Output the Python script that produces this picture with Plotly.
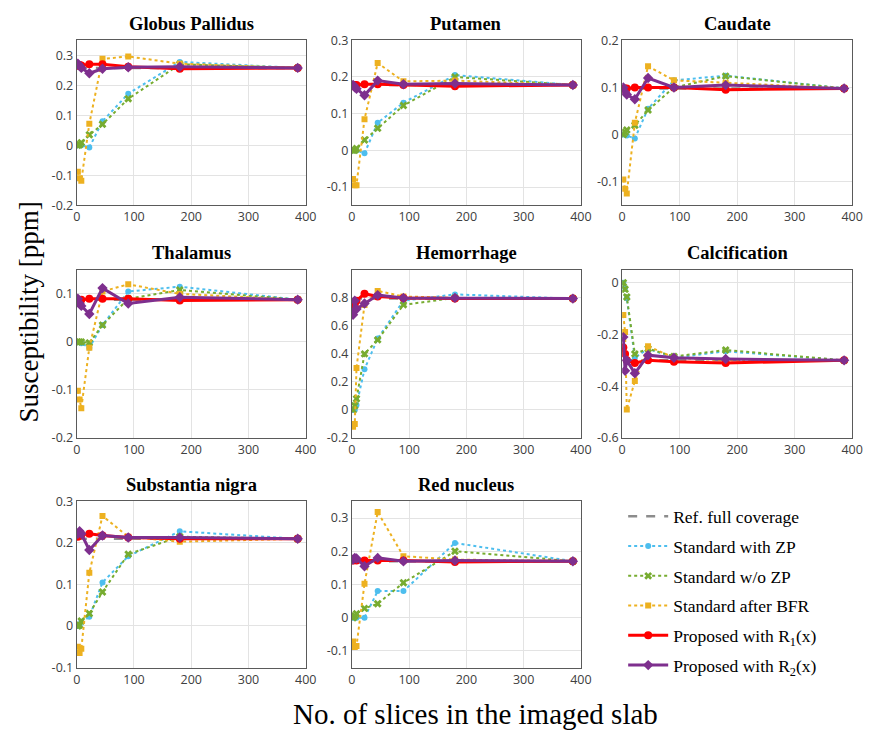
import plotly.graph_objects as go

# Number of slices in the imaged slab (shared x positions)
slices = [2, 5, 8, 22, 45, 90, 180, 386]

regions = ["Globus Pallidus", "Putamen", "Caudate",
           "Thalamus", "Hemorrhage", "Calcification",
           "Substantia nigra", "Red nucleus"]

# Reference value from full brain coverage, per region
ref_full = [0.258, 0.178, 0.098, 0.088, 0.795, -0.30, 0.21, 0.17]

std_zp = [
    [0.0, 0.0, 0.0, -0.007, 0.08, 0.172, 0.278, 0.258],
    [0.0, 0.0, 0.0, -0.008, 0.075, 0.13, 0.205, 0.178],
    [0.0, 0.0, -0.002, -0.008, 0.055, 0.115, 0.125, 0.098],
    [0.0, 0.0, -0.003, -0.012, 0.035, 0.105, 0.115, 0.088],
    [0.0, 0.0, 0.035, 0.29, 0.51, 0.78, 0.825, 0.795],
    [0.0, -0.02, -0.06, -0.29, -0.255, -0.29, -0.265, -0.30],
    [0.0, 0.0, 0.01, 0.022, 0.105, 0.168, 0.228, 0.21],
    [0.0, 0.0, 0.0, 0.0, 0.08, 0.08, 0.225, 0.17],
]

std_nozp = [
    [0.0, 0.002, 0.009, 0.035, 0.07, 0.155, 0.27, 0.258],
    [0.0, 0.0, 0.005, 0.028, 0.06, 0.122, 0.2, 0.178],
    [0.0, 0.005, 0.01, 0.02, 0.052, 0.1, 0.124, 0.098],
    [0.0, 0.0, 0.0, -0.002, 0.035, 0.09, 0.108, 0.088],
    [0.0, 0.03, 0.08, 0.40, 0.50, 0.75, 0.80, 0.795],
    [0.0, -0.025, -0.055, -0.275, -0.255, -0.285, -0.26, -0.30],
    [0.0, 0.002, 0.012, 0.03, 0.082, 0.173, 0.215, 0.21],
    [0.0, 0.005, 0.012, 0.028, 0.042, 0.105, 0.20, 0.17],
]

std_bfr = [
    [-0.088, -0.11, -0.118, 0.072, 0.288, 0.296, 0.272, 0.258],
    [-0.078, -0.095, -0.095, 0.085, 0.238, 0.188, 0.19, 0.178],
    [-0.095, -0.115, -0.125, 0.025, 0.145, 0.115, 0.11, 0.098],
    [-0.102, -0.12, -0.138, -0.012, 0.105, 0.12, 0.10, 0.088],
    [-0.12, -0.10, 0.30, 0.75, 0.85, 0.81, 0.80, 0.795],
    [-0.125, -0.19, -0.49, -0.38, -0.245, -0.29, -0.30, -0.30],
    [-0.05, -0.065, -0.055, 0.128, 0.265, 0.215, 0.203, 0.21],
    [-0.072, -0.088, -0.085, 0.102, 0.318, 0.185, 0.175, 0.17],
]

prop_r1 = [
    [0.265, 0.268, 0.266, 0.27, 0.27, 0.262, 0.255, 0.258],
    [0.175, 0.178, 0.178, 0.18, 0.18, 0.178, 0.175, 0.178],
    [0.097, 0.098, 0.098, 0.10, 0.10, 0.10, 0.095, 0.098],
    [0.088, 0.087, 0.088, 0.09, 0.09, 0.09, 0.086, 0.088],
    [0.72, 0.75, 0.78, 0.83, 0.81, 0.80, 0.795, 0.795],
    [-0.25, -0.275, -0.30, -0.31, -0.30, -0.305, -0.31, -0.30],
    [0.215, 0.218, 0.22, 0.222, 0.218, 0.213, 0.21, 0.21],
    [0.172, 0.175, 0.172, 0.172, 0.172, 0.172, 0.168, 0.17],
]

prop_r2 = [
    [0.272, 0.265, 0.258, 0.24, 0.255, 0.26, 0.262, 0.258],
    [0.178, 0.172, 0.168, 0.15, 0.19, 0.18, 0.182, 0.178],
    [0.10, 0.09, 0.085, 0.075, 0.12, 0.10, 0.105, 0.098],
    [0.09, 0.08, 0.075, 0.058, 0.112, 0.08, 0.093, 0.088],
    [0.68, 0.78, 0.72, 0.76, 0.82, 0.80, 0.80, 0.795],
    [-0.21, -0.34, -0.30, -0.35, -0.28, -0.29, -0.295, -0.30],
    [0.222, 0.228, 0.222, 0.183, 0.218, 0.213, 0.213, 0.21],
    [0.175, 0.18, 0.178, 0.155, 0.18, 0.17, 0.172, 0.17],
]

y_ranges = [[-0.2, 0.35], [-0.15, 0.3], [-0.15, 0.2],
            [-0.2, 0.15], [-0.2, 1.0], [-0.6, 0.05],
            [-0.1, 0.3], [-0.15, 0.35]]
y_ticks = [[-0.2, -0.1, 0, 0.1, 0.2, 0.3],
           [-0.1, 0, 0.1, 0.2, 0.3],
           [-0.1, 0, 0.1, 0.2],
           [-0.2, -0.1, 0, 0.1],
           [-0.2, 0, 0.2, 0.4, 0.6, 0.8],
           [-0.6, -0.4, -0.2, 0],
           [-0.1, 0, 0.1, 0.2, 0.3],
           [-0.1, 0, 0.1, 0.2, 0.3]]
x_ticks = [0, 100, 200, 300, 400]

W, H = 873, 740
col_px = [(74, 307), (354, 587), (629, 863)]
row_px = [(32, 201), (267, 439), (504, 674)]

series = [
    ("Ref. full coverage", None, dict(color="#8c8c8c", width=2.5, dash="dash"), None),
    ("Standard with ZP", std_zp, dict(color="#4DBEEE", width=2, dash="dot"),
     dict(symbol="circle", size=6, color="#4DBEEE")),
    ("Standard w/o ZP", std_nozp, dict(color="#77AC30", width=2, dash="dot"),
     dict(symbol="x", size=7, color="#77AC30")),
    ("Standard after BFR", std_bfr, dict(color="#EDB120", width=2, dash="dot"),
     dict(symbol="square", size=6, color="#EDB120")),
    ("Proposed with R<sub>1</sub>(x)", prop_r1, dict(color="#FF0000", width=3),
     dict(symbol="circle", size=8, color="#FF0000")),
    ("Proposed with R<sub>2</sub>(x)", prop_r2, dict(color="#7E2F8E", width=3),
     dict(symbol="diamond", size=8, color="#7E2F8E")),
]

fig = go.Figure()
tick_font = dict(family="Open Sans", size=12.5, color="#404040")
serif = "Liberation Serif"

for i, name in enumerate(regions):
    r, c = divmod(i, 3)
    xa = "x" if i == 0 else f"x{i + 1}"
    ya = "y" if i == 0 else f"y{i + 1}"
    for k, (label, data, line, marker) in enumerate(series):
        ys = [ref_full[i]] * len(slices) if data is None else data[i]
        fig.add_trace(go.Scatter(
            x=slices, y=ys, name=label,
            mode="lines" if marker is None else "lines+markers",
            line=line, marker=marker,
            xaxis=xa, yaxis=ya,
            legendgroup=f"g{k}", showlegend=(i == 0),
        ))
    x0, x1 = col_px[c]
    y0, y1 = row_px[r]
    axis_common = dict(showline=True, mirror=True, linecolor="#5a5a5a", linewidth=1,
                       showgrid=True, gridcolor="#e3e3e3", gridwidth=1,
                       zeroline=False, ticks="", tickfont=tick_font)
    fig.layout[("xaxis" if i == 0 else f"xaxis{i + 1}")] = dict(
        domain=[x0 / W, x1 / W], anchor=ya, range=[0, 400],
        tickvals=x_ticks, **axis_common)
    fig.layout[("yaxis" if i == 0 else f"yaxis{i + 1}")] = dict(
        domain=[1 - y1 / H, 1 - y0 / H], anchor=xa, range=y_ranges[i],
        tickvals=y_ticks[i], ticktext=[f"{v:g}" for v in y_ticks[i]], **axis_common)
    fig.add_annotation(
        text=f"<b>{name}</b>", x=(x0 + x1) / 2 / W, y=1 - (y0 - 17) / H,
        xref="paper", yref="paper", showarrow=False,
        font=dict(family=serif, size=18.5, color="black"),
        xanchor="center", yanchor="middle")

fig.add_annotation(
    text="Susceptibility [ppm]", x=25 / W, y=1 - 310 / H, xref="paper", yref="paper",
    showarrow=False, textangle=-90, font=dict(family=serif, size=27, color="black"),
    xanchor="center", yanchor="middle")
fig.add_annotation(
    text="No. of slices in the imaged slab", x=480 / W, y=1 - 722 / H,
    xref="paper", yref="paper", showarrow=False,
    font=dict(family=serif, size=29, color="black"),
    xanchor="center", yanchor="middle")

fig.update_layout(
    width=W, height=H,
    margin=dict(l=0, r=0, t=0, b=0),
    paper_bgcolor="white", plot_bgcolor="white",
    legend=dict(x=630 / W, y=1 - 501 / H, xanchor="left", yanchor="top",
                font=dict(family=serif, size=17.5, color="black"),
                bgcolor="rgba(0,0,0,0)", tracegroupgap=4, itemwidth=40),
)

fig.write_html("out.html")
